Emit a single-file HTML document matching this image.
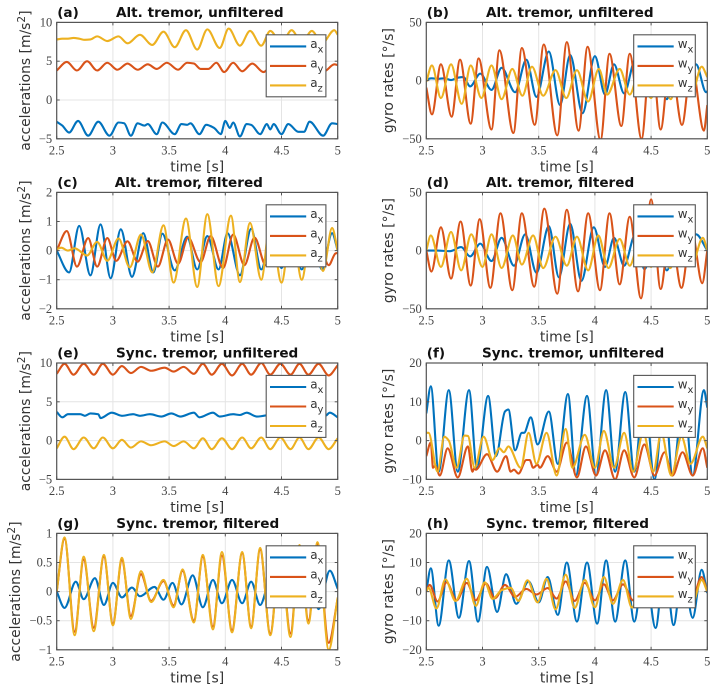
<!DOCTYPE html>
<html lang="en">
<head>
<meta charset="utf-8">
<title>Tremor accelerations and gyro rates</title>
<style>
html,body{margin:0;padding:0;background:#fff;width:716px;height:691px;overflow:hidden}
svg{display:block}
.tick{font-family:"Liberation Serif",serif;font-size:12.5px;fill:#444}
.title{font-family:"DejaVu Sans",sans-serif;font-size:13.6px;font-weight:bold;fill:#111}
.axis-label{font-family:"DejaVu Sans",sans-serif;font-size:13.9px;fill:#333}
.legend-text{font-family:"DejaVu Sans",sans-serif;font-size:12px;fill:#333}
</style>
</head>
<body>
<svg id="figure" xmlns="http://www.w3.org/2000/svg" width="716" height="691" viewBox="0 0 716 691"></svg>
<script>
const xTicks = [2.5, 3, 3.5, 4, 4.5, 5];
const xTickLabels = ['2.5', '3', '3.5', '4', '4.5', '5'];

const aAxT = [2.5,2.55,2.61,2.69,2.78,2.87,2.97,3.05,3.1,3.16,3.22,3.28,3.31,3.39,3.44,3.55,3.61,3.66,3.69,3.77,3.83,3.9,3.96,4,4.04,4.07,4.13,4.19,4.23,4.31,4.37,4.4,4.43,4.5,4.56,4.65,4.7,4.75,4.87,4.95,5];
const aAxV = [-2.8,-3.3,-4.2,-2.7,-4.6,-2.8,-4.6,-2.9,-3,-4.6,-3,-3.3,-3.1,-4.4,-2.9,-4.4,-3.1,-3.2,-3,-4.4,-3.2,-3.6,-4.4,-2.7,-3.6,-2.9,-4.7,-3.1,-3.2,-4.4,-3.1,-3.8,-3.1,-4.4,-3.1,-4.1,-4.1,-2.8,-4.6,-3,-3.1];
const aAyT = [2.5,2.59,2.68,2.77,2.86,2.95,3.04,3.13,3.22,3.31,3.39,3.48,3.58,3.66,3.72,3.78,3.85,3.92,3.99,4.07,4.15,4.24,4.34,4.43,4.52,4.6,4.7,4.78,4.88,4.97,5];
const aAyV = [3.8,4.9,3.8,5,3.8,4.8,3.9,4.7,3.9,4.6,4,4.8,3.9,4.8,4.7,4,4,4.8,3.6,4.8,3.7,4.7,3.6,4.7,3.8,4.7,3.7,4.7,3.7,4.6,4.5];
const aAzT = [2.5,2.55,2.6,2.65,2.7,2.75,2.8,2.86,2.95,3.05,3.13,3.24,3.35,3.45,3.55,3.65,3.75,3.84,3.95,4.03,4.13,4.22,4.32,4.4,4.5,4.59,4.68,4.77,4.86,4.97,5];
const aAzV = [7.8,7.9,7.9,8,7.9,7.75,7.8,8.2,7.6,8.2,7.3,8.4,7.1,8.8,6.8,9,6.5,9.1,6.7,9.2,7,8.9,7,8.9,7.3,9,7.4,8.9,7.3,9,8.4];

const bWxT = [2.5,2.55,2.6,2.66,2.72,2.78,2.83,2.89,2.98,3.08,3.17,3.29,3.39,3.48,3.59,3.69,3.78,3.89,4,4.09,4.17,4.26,4.36,4.45,4.53,4.64,4.72,4.81,4.9,4.99,5];
const bWxV = [1,2,1.5,2,0.5,2.5,3,-5,6,-8,11,-10,18,-14,25,-21,22,-28,21,-12,14,-11,18,-12,14,-16,12,-12,14,-10,-9];
const bWyT = [2.5,2.55,2.63,2.725,2.8,2.895,2.965,3.08,3.15,3.275,3.35,3.465,3.545,3.665,3.75,3.855,3.935,4.05,4.13,4.235,4.31,4.415,4.5,4.585,4.67,4.775,4.86,4.97,5];
const bWyV = [-6,-29,14,-31,18,-37,19,-42,26,-45,28,-38,31,-47,33,-43,29,-51,23,-39,23,-50,30,-42,20,-38,15,-43,-21];
const bWzT = [2.5,2.55,2.63,2.72,2.815,2.895,2.99,3.08,3.17,3.265,3.355,3.44,3.54,3.65,3.745,3.84,3.94,4.035,4.11,4.22,4.31,4.4,4.5,4.58,4.675,4.75,4.86,4.95,5];
const bWzV = [-1,13,-15,14,-20,13,-15,13,-16,10,-13,12,-13,9,-15,9,-18,10,-12,10,-12,10,-15,10,-16,10,-12,12,3];

const cAxT = [2.5,2.61,2.7,2.8,2.89,2.98,3.07,3.17,3.27,3.36,3.44,3.55,3.66,3.75,3.84,3.94,4.02,4.13,4.23,4.32,4.41,4.5,4.59,4.68,4.77,4.86,4.95,5];
const cAxV = [0,-0.75,0.85,-0.85,0.9,-0.95,0.73,-0.9,0.6,-0.75,0.58,-0.68,0.48,-0.65,0.5,-0.65,0.6,-0.85,0.75,-0.65,0.55,-0.6,0.6,-0.65,0.6,-0.65,0.6,0];
const cAyT = [2.5,2.59,2.68,2.78,2.86,2.95,3.03,3.13,3.22,3.31,3.4,3.49,3.58,3.67,3.78,3.87,3.98,4.07,4.17,4.26,4.36,4.46,4.56,4.65,4.75,4.83,4.92,4.98,5];
const cAyV = [0,0.67,-0.55,0.43,-0.55,0.43,-0.35,0.32,-0.38,0.33,-0.55,0.38,-0.45,0.45,-0.4,0.5,-0.6,0.55,-0.5,0.45,-0.5,0.4,-0.5,0.4,-0.5,0.3,-0.5,-0.1,-0.08];
const cAzT = [2.5,2.54,2.6,2.66,2.77,2.86,2.95,3.05,3.15,3.25,3.35,3.45,3.54,3.65,3.75,3.84,3.94,4.05,4.13,4.22,4.32,4.4,4.5,4.59,4.68,4.77,4.87,4.95,5];
const cAzV = [0.05,0.1,0,0.08,-0.17,0.3,-0.35,0.42,-0.58,0.55,-0.75,0.87,-1.1,1.1,-1.25,1.25,-1.22,1.2,-1.08,0.95,-1,1,-1.1,0.9,-1,0.9,-0.7,0.78,0];

const dWxT = [2.5,2.6,2.71,2.81,2.89,2.98,3.08,3.17,3.28,3.38,3.48,3.59,3.68,3.78,3.88,3.99,4.09,4.17,4.26,4.36,4.44,4.55,4.64,4.74,4.81,4.9,5];
const dWxV = [0,0,-0.5,3,-5,6,-9,11,-13,14,-19,21,-23,23,-26,20,-14,11,-13,14,-16,14,-17,13,-12,14,0];
const dWyT = [2.5,2.545,2.63,2.72,2.805,2.895,2.975,3.07,3.16,3.265,3.35,3.46,3.55,3.665,3.75,3.85,3.94,4.045,4.13,4.22,4.31,4.41,4.5,4.585,4.67,4.77,4.86,4.955,5];
const dWyV = [0,-18,20,-24,25,-30,27,-32,32,-34,32,-31,36,-37,35,-35,32,-34,32,-29,29,-41,44,-33,20,-32,18,-28,0];
const dWzT = [2.5,2.54,2.63,2.72,2.81,2.9,3,3.08,3.17,3.27,3.35,3.45,3.54,3.65,3.75,3.84,3.94,4.03,4.12,4.22,4.31,4.4,4.5,4.58,4.67,4.76,4.86,4.96,5];
const dWzV = [0,13,-14,16,-17,14,-14,14,-15,13,-12,13,-15,12,-13,12,-17,13,-15,10,-13,10,-14,10,-15,10,-13,11,0];

const eAxT = [2.5,2.55,2.6,2.71,2.75,2.8,2.87,2.89,2.99,3.08,3.18,3.24,3.33,3.43,3.52,3.6,3.72,3.77,3.89,3.95,4.07,4.13,4.19,4.28,4.42,4.54,4.66,4.81,4.89,4.93,5];
const eAxV = [3.7,3,3.4,3.4,3.2,3.5,3.4,2.9,3.6,3.2,3.4,3.2,3.4,3.1,3.5,3.1,3.6,3,3.6,3.1,3.4,3.3,3.6,3.1,3.4,3.6,3.2,3.5,3.2,3.6,3];
const eAyT = [2.5,2.57,2.65,2.74,2.83,2.91,3,3.08,3.16,3.25,3.34,3.46,3.54,3.63,3.72,3.8,3.88,3.97,4.06,4.15,4.23,4.32,4.4,4.49,4.58,4.66,4.74,4.83,4.92,5];
const eAyV = [8.6,9.9,8.5,9.9,8.5,9.9,8.5,9.6,8.7,9.5,9,9.4,8.9,9.5,8.6,9.9,8.5,9.9,8.4,9.9,8.5,10,8.5,9.9,8.5,9.9,8.5,9.9,8.4,9.7];
const eAzT = [2.5,2.57,2.65,2.74,2.83,2.91,3,3.08,3.16,3.25,3.34,3.46,3.54,3.63,3.72,3.8,3.88,3.97,4.06,4.15,4.23,4.32,4.4,4.49,4.58,4.66,4.74,4.83,4.92,5];
const eAzV = [-1,0.5,-1.1,0.4,-1,0.4,-1,0.1,-0.9,-0.1,-0.6,-0.1,-0.7,-0.1,-1,0.3,-1.1,0.3,-1.1,0.4,-1,0.4,-1.1,0.4,-1.1,0.4,-1.1,0.4,-1.1,0.3];

const fWxT = [2.5,2.54,2.61,2.7,2.78,2.88,2.95,3.05,3.12,3.2,3.23,3.29,3.35,3.37,3.43,3.49,3.59,3.67,3.76,3.83,3.93,4.01,4.1,4.18,4.27,4.35,4.44,4.53,4.62,4.69,4.79,4.87,4.97,5];
const fWxV = [7,14,-8,13,-8,13,-7,11.5,-4,7.5,8,-2.5,2,2,6,-1,7.5,-6,12,-9,11.5,-9,13,-8,12.5,-8,13,-10,12,-9,12,-9,13,8.5];
const fWyT = [2.5,2.54,2.56,2.58,2.62,2.69,2.78,2.87,2.91,2.93,2.94,3.04,3.13,3.21,3.25,3.28,3.32,3.39,3.42,3.45,3.49,3.51,3.58,3.66,3.75,3.84,3.92,4.01,4.09,4.18,4.26,4.35,4.44,4.53,4.62,4.69,4.78,4.87,4.96,5];
const fWyV = [-4,-0.5,-7,-6.5,-9,-2,-9.5,-1.5,-8,-7,-7.5,-3.5,-8,-4,-8,-7.5,-8.5,-5,-5,-7,-6.2,-7,-4,-8,-0.5,-9.5,-1.5,-9,-2.5,-10,-2.5,-9.5,-1,-9,-3,-9,-3,-9,-2,-7];
const fWzT = [2.5,2.52,2.6,2.66,2.7,2.77,2.84,2.87,2.93,3.01,3.09,3.15,3.19,3.23,3.34,3.41,3.48,3.57,3.66,3.74,3.8,3.91,4,4.08,4.17,4.26,4.34,4.43,4.52,4.59,4.68,4.77,4.85,4.96,5];
const fWzV = [2,2,-8,1,0,-7,1.3,1.2,-7,1,-5,-2,-3,-1.5,-7,2,-6,2,-9,3,-7,1.5,-7,2.5,-7,2,-8,2,-8,2,-9,1,-6,1,-2];

const gAxT = [2.5,2.57,2.67,2.74,2.84,2.92,3,3.08,3.17,3.24,3.37,3.45,3.53,3.61,3.71,3.8,3.89,3.97,4.06,4.15,4.23,4.31,4.4,4.49,4.58,4.66,4.75,4.83,4.93,5];
const gAxV = [0,-0.28,0.17,-0.13,0.23,-0.23,0.15,-0.1,0.07,-0.08,0.08,-0.14,0.15,-0.22,0.28,-0.27,0.2,-0.2,0.2,-0.2,0.17,-0.23,0.2,-0.2,0.25,-0.25,0.25,-0.3,0.36,0.05];
const gAyT = [2.5,2.57,2.66,2.74,2.83,2.92,3,3.08,3.16,3.25,3.34,3.45,3.54,3.62,3.72,3.8,3.89,3.97,4.06,4.15,4.23,4.31,4.4,4.49,4.58,4.66,4.74,4.82,4.92,5];
const gAyV = [0,0.91,-0.69,0.55,-0.62,0.6,-0.55,0.54,-0.42,0.3,-0.16,0.18,-0.24,0.36,-0.5,0.6,-0.6,0.62,-0.66,0.66,-0.6,0.72,-0.72,0.68,-0.72,0.78,-0.5,0.82,-0.88,-0.12];
const gAzT = [2.5,2.57,2.66,2.74,2.83,2.92,3,3.08,3.16,3.25,3.34,3.45,3.54,3.62,3.72,3.8,3.89,3.97,4.06,4.15,4.23,4.31,4.4,4.49,4.58,4.66,4.74,4.82,4.92,5];
const gAzV = [0,0.93,-0.75,0.6,-0.68,0.63,-0.58,0.58,-0.47,0.35,-0.18,0.2,-0.27,0.38,-0.53,0.63,-0.65,0.68,-0.7,0.68,-0.63,0.75,-0.75,0.7,-0.78,0.8,-0.55,0.85,-1,-0.1];

const hWxT = [2.5,2.54,2.61,2.7,2.79,2.88,2.96,3.04,3.13,3.21,3.3,3.41,3.5,3.58,3.67,3.75,3.84,3.93,4.02,4.1,4.18,4.27,4.35,4.44,4.54,4.62,4.7,4.78,4.87,4.95,5];
const hWxV = [0,8,-11.7,10.7,-9,10.5,-10.3,8.5,-7,6,-4.2,3.5,-3.7,5,-8,10,-10.3,10,-11,10.7,-10.3,10.7,-10.3,10,-12.5,10,-11.5,8,-9,7.5,-0.5];
const hWyT = [2.5,2.53,2.6,2.68,2.77,2.86,2.94,3.03,3.11,3.2,3.29,3.39,3.48,3.58,3.66,3.74,3.82,3.91,4,4.08,4.16,4.25,4.34,4.43,4.52,4.6,4.68,4.77,4.86,4.95,5];
const hWyV = [0,2.3,-3.4,3.2,-3,3,-3,2.8,-2.3,2.3,-1.8,0.9,-1,1.2,-2.4,3.5,-3.2,3,-3,2.5,-3,2.5,-3,2.5,-3.5,3,-3,3,-3,5,0];
const hWzT = [2.5,2.52,2.59,2.67,2.76,2.86,2.94,3.02,3.09,3.17,3.25,3.32,3.4,3.49,3.57,3.65,3.74,3.82,3.91,4,4.08,4.16,4.25,4.33,4.43,4.52,4.6,4.68,4.77,4.86,4.95,5];
const hWzV = [0,1.3,-5.8,4.2,-3.2,4.4,-4.9,3.2,-2.5,0.5,1.3,-3.2,3.9,-3.7,4.4,-6.1,5.8,-5.6,4,-5.4,5,-4.2,4,-5.5,4.5,-5,3.8,-5,3.8,-5,4,0];

const yTicksA = [-5, 0, 5, 10];
const yLabelsA = ['\u22125', '0', '5', '10'];
const yTicksB = [-50, 0, 50];
const yLabelsB = ['\u221250', '0', '50'];
const yTicksC = [-2, -1, 0, 1, 2];
const yLabelsC = ['\u22122', '\u22121', '0', '1', '2'];
const yTicksF = [-10, 0, 10, 20];
const yLabelsF = ['\u221210', '0', '10', '20'];
const yTicksG = [-1, -0.5, 0, 0.5, 1];
const yLabelsG = ['\u22121', '\u22120.5', '0', '0.5', '1'];
const yTicksH = [-20, -10, 0, 10, 20];
const yLabelsH = ['\u221220', '\u221210', '0', '10', '20'];

const seriesColors = ['#0072BD', '#D95319', '#EDB120'];
const NS = 'http://www.w3.org/2000/svg';
const root = document.getElementById('figure');

function mk(tag, attrs, parent) {
  const node = document.createElementNS(NS, tag);
  for (const k in attrs) node.setAttribute(k, attrs[k]);
  parent.appendChild(node);
  return node;
}

function smoothPath(ts, vs, sx, sy) {
  const n = Math.min(ts.length, vs.length);
  const px = [], py = [];
  for (let i = 0; i < n; i++) { px.push(sx(ts[i])); py.push(sy(vs[i])); }
  const sec = [];
  for (let i = 0; i < n - 1; i++) sec.push((py[i + 1] - py[i]) / (px[i + 1] - px[i]));
  const m = [sec[0]];
  for (let i = 1; i < n - 1; i++) {
    m.push(sec[i - 1] * sec[i] <= 0 ? 0 : 2 * sec[i - 1] * sec[i] / (sec[i - 1] + sec[i]));
  }
  m.push(sec[n - 2]);
  let d = 'M' + px[0].toFixed(2) + ' ' + py[0].toFixed(2);
  for (let i = 0; i < n - 1; i++) {
    const h = (px[i + 1] - px[i]) / 3;
    d += 'C' + (px[i] + h).toFixed(2) + ' ' + (py[i] + m[i] * h).toFixed(2) + ' ' +
      (px[i + 1] - h).toFixed(2) + ' ' + (py[i + 1] - m[i + 1] * h).toFixed(2) + ' ' +
      px[i + 1].toFixed(2) + ' ' + py[i + 1].toFixed(2);
  }
  return d;
}

function drawPanel(p) {
  const W = 281, H = 116.4;
  const sx = t => p.left + (t - 2.5) / 2.5 * W;
  const sy = v => p.top + H - (v - p.yTicks[0]) / (p.yTicks[p.yTicks.length - 1] - p.yTicks[0]) * H;
  const g = mk('g', {}, root);
  
  
  const clip = mk('clipPath', { id: 'clip-' + p.id }, g);
  mk('rect', { x: p.left, y: p.top, width: W, height: H }, clip);

  mk('rect', { x: p.left, y: p.top, width: W, height: H, fill: '#fff' }, g);

  const grid = mk('g', { stroke: '#e4e4e4', 'stroke-width': 1 }, g);
  
  
  xTicks.forEach(t => mk('line', { x1: sx(t), x2: sx(t), y1: p.top, y2: p.top + H }, grid));
  p.yTicks.forEach(v => mk('line', { x1: p.left, x2: p.left + W, y1: sy(v), y2: sy(v) }, grid));

  const lines = mk('g', { 'clip-path': 'url(#clip-' + p.id + ')' }, g);
  p.series.forEach((s, i) => {
    const path = mk('path', { d: smoothPath(s.t, s.v, sx, sy), fill: 'none', stroke: seriesColors[i], 'stroke-width': 2.1, 'stroke-linejoin': 'round' }, lines);
    
    
  });

  const box = mk('rect', { x: p.left, y: p.top, width: W, height: H, fill: 'none', stroke: '#555', 'stroke-width': 1.2 }, g);
  
  

  xTicks.forEach((t, i) => {
    mk('line', { x1: sx(t), x2: sx(t), y1: p.top + H, y2: p.top + H - 3, stroke: '#555', 'stroke-width': 1 }, g);
    mk('line', { x1: sx(t), x2: sx(t), y1: p.top, y2: p.top + 3, stroke: '#555', 'stroke-width': 1 }, g);
    const label = mk('text', { x: sx(t), y: p.top + H + 15.5, 'text-anchor': 'middle', class: 'tick' }, g);
    
    
    label.textContent = xTickLabels[i];
  });
  p.yTicks.forEach((v, i) => {
    mk('line', { x1: p.left, x2: p.left + 3, y1: sy(v), y2: sy(v), stroke: '#555', 'stroke-width': 1 }, g);
    mk('line', { x1: p.left + W, x2: p.left + W - 3, y1: sy(v), y2: sy(v), stroke: '#555', 'stroke-width': 1 }, g);
    const label = mk('text', { x: p.left - 4.5, y: sy(v) + 4, 'text-anchor': 'end', class: 'tick' }, g);
    
    
    label.textContent = p.yLabels[i];
  });

  const xTitle = mk('text', { x: p.left + W / 2, y: p.top + H + 32.5, 'text-anchor': 'middle', class: 'axis-label' }, g);
  
  
  xTitle.textContent = 'time [s]';

  const yc = p.top + H / 2 + p.yShift;
  const yTitle = mk('text', { transform: 'translate(' + p.yLabelX + ' ' + yc + ') rotate(-90)', 'text-anchor': 'middle', class: 'axis-label' }, g);
  
  
  if (p.acc) {
    yTitle.appendChild(document.createTextNode('accelerations [m/s'));
    const sup = mk('tspan', { dy: -5, 'font-size': 10.5 }, yTitle);
    sup.textContent = '2';
    const end = mk('tspan', { dy: 5 }, yTitle);
    end.textContent = ']';
  } else {
    yTitle.textContent = 'gyro rates [\u00B0/s]';
  }

  const tag = mk('text', { x: p.left + 0.5, y: p.top - 5.5, class: 'title' }, g);
  
  
  tag.textContent = '(' + p.id + ')';
  const title = mk('text', { x: p.titleX, y: p.top - 5.5, class: 'title' }, g);
  
  
  title.textContent = p.title;

  const lx = p.acc ? p.left + 209.5 : p.left + 207.4;
  const lw = p.acc ? 59.7 : 61.6;
  const legend = mk('g', {}, g);
  
  
  mk('rect', { x: lx, y: p.top + 12.4, width: lw, height: 62, fill: '#fff', stroke: '#555', 'stroke-width': 1.1 }, legend);
  const rowY = [24, 43.5, 63];
  const base = p.acc ? 'a' : 'w';
  const subs = ['x', 'y', 'z'];
  p.series.forEach((s, i) => {
    const ly = p.top + rowY[i];
    mk('line', { x1: lx + 3.8, x2: lx + 40, y1: ly, y2: ly, stroke: seriesColors[i], 'stroke-width': 2.1 }, legend);
    const entry = mk('text', { x: lx + 44, y: ly + 1.5, class: 'legend-text' }, legend);
    
    
    entry.appendChild(document.createTextNode(base));
    const sub = mk('tspan', { dy: 4.5, 'font-size': 10 }, entry);
    sub.textContent = subs[i];
  });
}

const LEFT_A = 56.7, LEFT_B = 426.3;
const panels = [
  { id: 'a', title: 'Alt. tremor, unfiltered', acc: true, left: LEFT_A, top: 22.4, titleX: 116, yLabelX: 30, yShift: 0, yTicks: yTicksA, yLabels: yLabelsA,
    series: [{ name: 'ax', t: aAxT, v: aAxV }, { name: 'ay', t: aAyT, v: aAyV }, { name: 'az', t: aAzT, v: aAzV }] },
  { id: 'b', title: 'Alt. tremor, unfiltered', acc: false, left: LEFT_B, top: 22.4, titleX: 486, yLabelX: 393, yShift: 0, yTicks: yTicksB, yLabels: yLabelsB,
    series: [{ name: 'wx', t: bWxT, v: bWxV }, { name: 'wy', t: bWyT, v: bWyV }, { name: 'wz', t: bWzT, v: bWzV }] },
  { id: 'c', title: 'Alt. tremor, filtered', acc: true, left: LEFT_A, top: 192.4, titleX: 114.7, yLabelX: 30, yShift: 0, yTicks: yTicksC, yLabels: yLabelsC,
    series: [{ name: 'ax', t: cAxT, v: cAxV }, { name: 'ay', t: cAyT, v: cAyV }, { name: 'az', t: cAzT, v: cAzV }] },
  { id: 'd', title: 'Alt. tremor, filtered', acc: false, left: LEFT_B, top: 192.4, titleX: 486, yLabelX: 393, yShift: 0, yTicks: yTicksB, yLabels: yLabelsB,
    series: [{ name: 'wx', t: dWxT, v: dWxV }, { name: 'wy', t: dWyT, v: dWyV }, { name: 'wz', t: dWzT, v: dWzV }] },
  { id: 'e', title: 'Sync. tremor, unfiltered', acc: true, left: LEFT_A, top: 363, titleX: 116, yLabelX: 30, yShift: 0, yTicks: yTicksA, yLabels: yLabelsA,
    series: [{ name: 'ax', t: eAxT, v: eAxV }, { name: 'ay', t: eAyT, v: eAyV }, { name: 'az', t: eAzT, v: eAzV }] },
  { id: 'f', title: 'Sync. tremor, unfiltered', acc: false, left: LEFT_B, top: 363, titleX: 482, yLabelX: 393, yShift: 0, yTicks: yTicksF, yLabels: yLabelsF,
    series: [{ name: 'wx', t: fWxT, v: fWxV }, { name: 'wy', t: fWyT, v: fWyV }, { name: 'wz', t: fWzT, v: fWzV }] },
  { id: 'g', title: 'Sync. tremor, filtered', acc: true, left: LEFT_A, top: 533.4, titleX: 116.3, yLabelX: 20, yShift: 0, yTicks: yTicksG, yLabels: yLabelsG,
    series: [{ name: 'ax', t: gAxT, v: gAxV }, { name: 'ay', t: gAyT, v: gAyV }, { name: 'az', t: gAzT, v: gAzV }] },
  { id: 'h', title: 'Sync. tremor, filtered', acc: false, left: LEFT_B, top: 533.4, titleX: 486, yLabelX: 393, yShift: 0, yTicks: yTicksH, yLabels: yLabelsH,
    series: [{ name: 'wx', t: hWxT, v: hWxV }, { name: 'wy', t: hWyT, v: hWyV }, { name: 'wz', t: hWzT, v: hWzV }] }
];
panels.forEach(drawPanel);
</script>
</body>
</html>
